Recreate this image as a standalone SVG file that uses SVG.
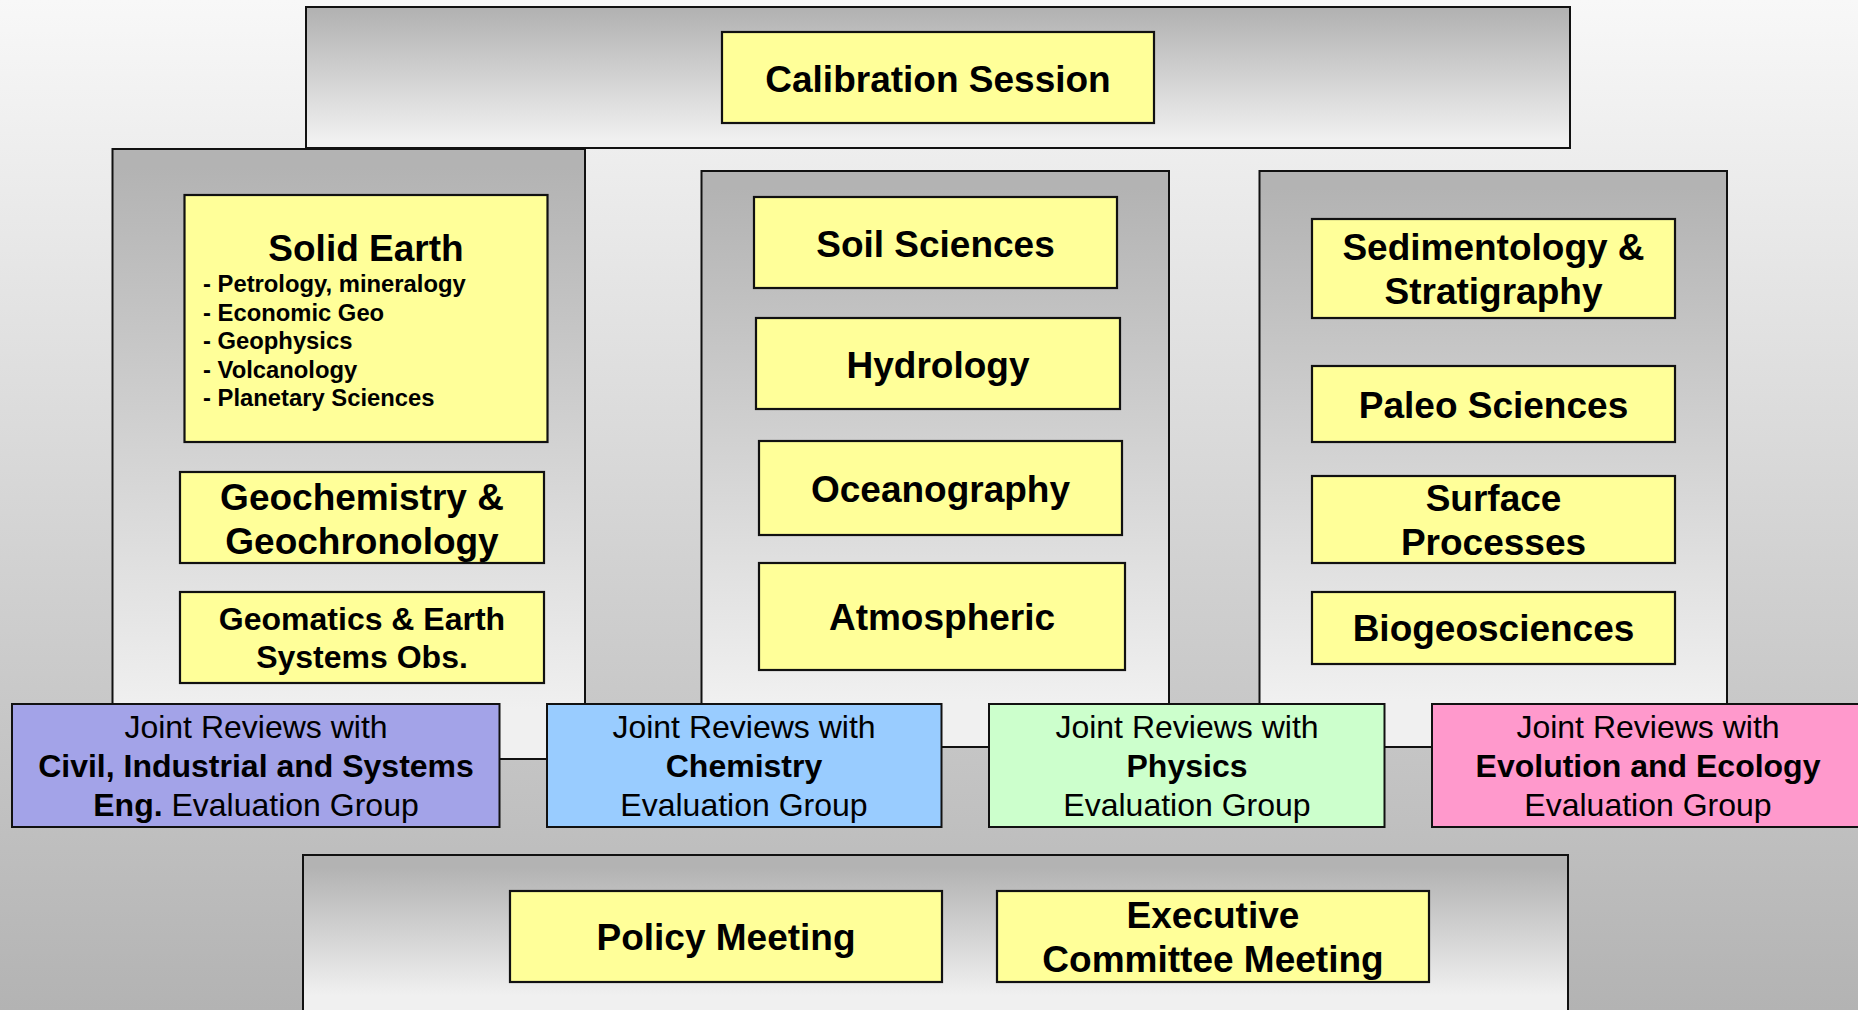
<svg xmlns="http://www.w3.org/2000/svg" width="1858" height="1010" viewBox="0 0 1858 1010">
<defs>
<linearGradient id="bg" x1="0" y1="0" x2="0" y2="1010" gradientUnits="userSpaceOnUse">
<stop offset="0" stop-color="#f8f8f8"/><stop offset="1" stop-color="#b3b3b3"/>
</linearGradient>
<linearGradient id="pnl" x1="0" y1="0" x2="0" y2="1">
<stop offset="0.03" stop-color="#b3b3b3"/><stop offset="0.92" stop-color="#f0f0f0"/>
</linearGradient>
<linearGradient id="topg" x1="0" y1="12" x2="0" y2="140" gradientUnits="userSpaceOnUse">
<stop offset="0" stop-color="#b3b3b3"/><stop offset="1" stop-color="#f0f0f0"/>
</linearGradient>
<linearGradient id="botg" x1="0" y1="868" x2="0" y2="995" gradientUnits="userSpaceOnUse">
<stop offset="0" stop-color="#b3b3b3"/><stop offset="1" stop-color="#f0f0f0"/>
</linearGradient>
</defs>
<style>
.panel{stroke:#111;stroke-width:2}
.y{fill:#ffff99;stroke:#111;stroke-width:2.2}
.jr{stroke:#111;stroke-width:2}
text{font-family:"Liberation Sans",Arial,sans-serif;fill:#000}
.t{font-size:37px;font-weight:bold;text-anchor:middle}
.m{font-size:32px;font-weight:bold;text-anchor:middle}
.s{font-size:23.8px;font-weight:bold}
.r{font-size:32px;text-anchor:middle}
.b{font-weight:bold}
</style>
<rect x="0" y="0" width="1858" height="1010" fill="url(#bg)"/>

<g id="panel-top">
<rect class="panel" x="306" y="7" width="1264" height="141" fill="url(#topg)"/>
</g>
<g id="panel-left">
<rect class="panel" x="112.5" y="149" width="472.5" height="610" fill="url(#pnl)"/>
</g>
<g id="panel-middle">
<rect class="panel" x="701.5" y="171" width="467.5" height="576" fill="url(#pnl)"/>
</g>
<g id="panel-right">
<rect class="panel" x="1259.5" y="171" width="467.5" height="576" fill="url(#pnl)"/>
</g>
<g id="panel-bottom">
<rect class="panel" x="303" y="855" width="1265" height="200" fill="url(#botg)"/>
</g>

<g id="calibration-session">
<rect class="y" x="722" y="32" width="432" height="91"/>
<text class="t" x="938" y="92">Calibration Session</text>
</g>

<g id="solid-earth">
<rect class="y" x="184.5" y="195" width="363" height="247"/>
<text class="t" x="366" y="260.5">Solid Earth</text>
<text class="s" x="203" y="292">- Petrology, mineralogy</text>
<text class="s" x="203" y="320.5">- Economic Geo</text>
<text class="s" x="203" y="349">- Geophysics</text>
<text class="s" x="203" y="377.5">- Volcanology</text>
<text class="s" x="203" y="406">- Planetary Sciences</text>
</g>
<g id="geochemistry">
<rect class="y" x="180" y="472" width="364" height="91"/>
<text class="t" x="362" y="509.5">Geochemistry &amp;</text>
<text class="t" x="362" y="554">Geochronology</text>
</g>
<g id="geomatics">
<rect class="y" x="180" y="592" width="364" height="91"/>
<text class="m" x="362" y="630">Geomatics &amp; Earth</text>
<text class="m" x="362" y="668">Systems Obs.</text>
</g>

<g id="soil-sciences">
<rect class="y" x="754" y="197" width="363" height="91"/>
<text class="t" x="935.5" y="257">Soil Sciences</text>
</g>
<g id="hydrology">
<rect class="y" x="756" y="318" width="364" height="91"/>
<text class="t" x="938" y="377.5">Hydrology</text>
</g>
<g id="oceanography">
<rect class="y" x="759" y="441" width="363" height="94"/>
<text class="t" x="940.5" y="501.5">Oceanography</text>
</g>
<g id="atmospheric">
<rect class="y" x="759" y="563" width="366" height="107"/>
<text class="t" x="942" y="630">Atmospheric</text>
</g>

<g id="sedimentology">
<rect class="y" x="1312" y="219" width="363" height="99"/>
<text class="t" x="1493.5" y="259.5">Sedimentology &amp;</text>
<text class="t" x="1493.5" y="304">Stratigraphy</text>
</g>
<g id="paleo-sciences">
<rect class="y" x="1312" y="366" width="363" height="76"/>
<text class="t" x="1493.5" y="417.5">Paleo Sciences</text>
</g>
<g id="surface-processes">
<rect class="y" x="1312" y="476" width="363" height="87"/>
<text class="t" x="1493.5" y="511">Surface</text>
<text class="t" x="1493.5" y="555">Processes</text>
</g>
<g id="biogeosciences">
<rect class="y" x="1312" y="592" width="363" height="72"/>
<text class="t" x="1493.5" y="640.5">Biogeosciences</text>
</g>

<g id="joint-civil">
<rect class="jr" x="12" y="704" width="487.5" height="123" fill="#a3a3e8"/>
<text class="r" x="256" y="738">Joint Reviews with</text>
<text class="r b" x="256" y="777">Civil, Industrial and Systems</text>
<text class="r" x="256" y="816"><tspan class="b">Eng.</tspan> Evaluation Group</text>
</g>
<g id="joint-chemistry">
<rect class="jr" x="547" y="704" width="394.5" height="123" fill="#99ccff"/>
<text class="r" x="744" y="738">Joint Reviews with</text>
<text class="r b" x="744" y="777">Chemistry</text>
<text class="r" x="744" y="816">Evaluation Group</text>
</g>
<g id="joint-physics">
<rect class="jr" x="989" y="704" width="395.5" height="123" fill="#ccffcc"/>
<text class="r" x="1187" y="738">Joint Reviews with</text>
<text class="r b" x="1187" y="777">Physics</text>
<text class="r" x="1187" y="816">Evaluation Group</text>
</g>
<g id="joint-evolution">
<rect class="jr" x="1432" y="704" width="432" height="123" fill="#ff99cc"/>
<text class="r" x="1648" y="738">Joint Reviews with</text>
<text class="r b" x="1648" y="777">Evolution and Ecology</text>
<text class="r" x="1648" y="816">Evaluation Group</text>
</g>

<g id="policy-meeting">
<rect class="y" x="510" y="891" width="432" height="91"/>
<text class="t" x="726" y="950">Policy Meeting</text>
</g>
<g id="executive-committee">
<rect class="y" x="997" y="891" width="432" height="91"/>
<text class="t" x="1213" y="927.5">Executive</text>
<text class="t" x="1213" y="972">Committee Meeting</text>
</g>

<g id="connectors"></g>
</svg>
